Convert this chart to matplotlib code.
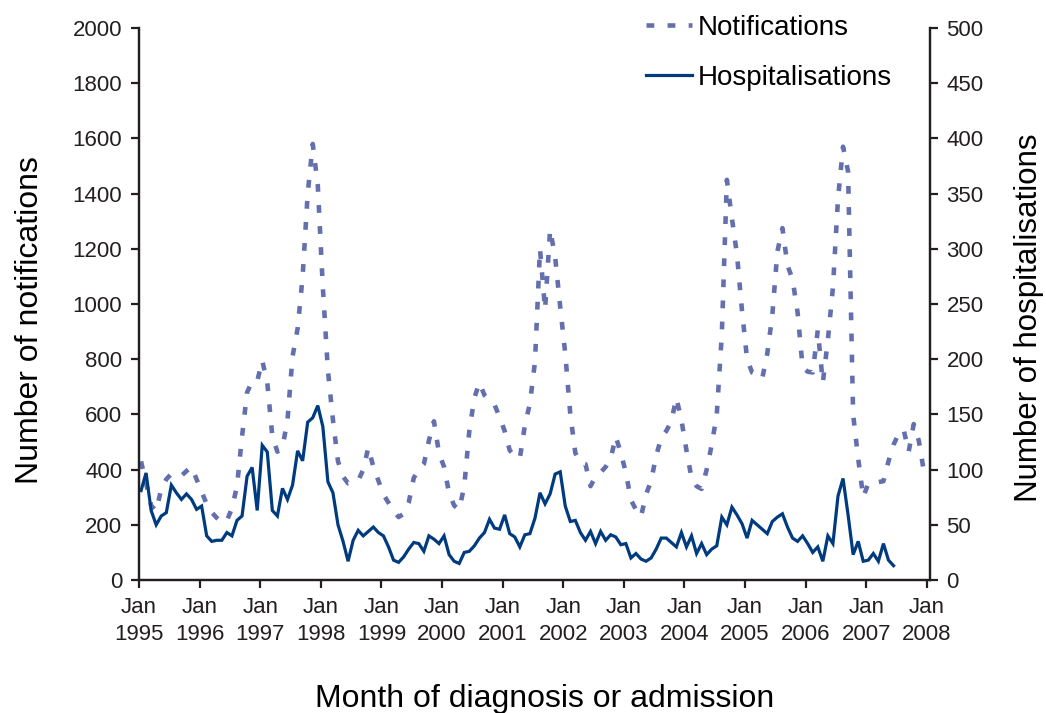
import matplotlib.pyplot as plt
import numpy as np

plt.rcParams['font.family'] = ['Liberation Sans', 'DejaVu Sans']

# monthly counts, Jan 1995 onwards
notifications = [
    430, 350, 270, 250, 330, 365, 385, 380, 378, 395, 410, 365,
    320, 275, 245, 225, 208, 215, 260, 340, 520, 680, 720, 720,
    795, 715, 520, 465, 480, 580, 810, 910, 1100, 1400, 1580, 1430,
    1060, 760, 580, 430, 375, 350, 352, 360, 400, 480, 410, 360,
    310, 280, 250, 228, 240, 280, 370, 400, 420, 505, 575, 460,
    410, 315, 270, 255, 340, 540, 660, 715, 670, 650, 635, 590,
    540, 470, 450, 440, 560, 640, 790, 1200, 980, 1270, 1170, 990,
    820, 600, 460, 425, 420, 340, 375, 390, 410, 440, 520, 460,
    390, 290, 255, 230, 310, 360, 450, 515, 540, 575, 660, 580,
    470, 370, 340, 330, 400, 490, 600, 890, 1450, 1310, 1180, 975,
    800, 752, 745, 730, 820, 960, 1190, 1275, 1140, 1090, 970, 770,
    755, 752, 905, 715, 870, 1060, 1380, 1570, 1480, 600, 440, 300,
    350, 355, 355, 358, 430, 490, 530, 545, 465, 565, 505, 395,
]

hospitalisations = [
    81, 97, 63, 50, 58, 61, 86, 79, 73, 78, 73, 64,
    67, 40, 35, 36, 36, 43, 40, 54, 58, 94, 102, 63,
    122, 116, 63, 58, 83, 73, 86, 117, 108, 143, 147, 158,
    139, 89, 79, 50, 35, 17, 36, 45, 40, 44, 48, 43,
    40, 30, 18, 16, 21, 28, 34, 33, 26, 40, 37, 33,
    40, 23, 17, 15, 25, 26, 31, 38, 43, 55, 47, 46,
    59, 42, 39, 30, 41, 42, 56, 79, 69, 78, 96, 98,
    67, 53, 54, 43, 36, 44, 33, 44, 36, 41, 39, 32,
    33, 20, 24, 19, 17, 20, 28, 38, 38, 34, 30, 43,
    30, 40, 24, 33, 23, 28, 31, 57, 50, 66, 59, 51,
    38, 54, 50, 46, 42, 53, 57, 60, 48, 38, 35, 40,
    33, 25, 30, 17, 40, 33, 76, 92, 59, 23, 35, 17,
    18, 24, 17, 33, 18, 13,
]

years = list(range(1995, 2009))
tick_labels = ["Jan\n%d" % y for y in years]

notif_col = "#6470ae"
hosp_col = "#003b80"
axis_col = "#231f20"

x_n = np.arange(len(notifications)) + 0.4
x_h = np.arange(len(hospitalisations)) + 0.4

fig = plt.figure(figsize=(10.46, 7.13), dpi=100)
ax = fig.add_axes([0.1329, 0.1865, 0.7561, 0.7742])
ax2 = ax.twinx()

l1, = ax.plot(x_n, notifications, color=notif_col, lw=3.3,
              dashes=(1.7, 2.9), dash_capstyle="butt", label="Notifications")
l2, = ax2.plot(x_h, hospitalisations, color=hosp_col, lw=2.3,
               solid_joinstyle="miter", label="Hospitalisations")

ax.set_xlim(0, 156.6)
ax.set_ylim(0, 2000)
ax2.set_ylim(0, 500)
ax.set_xticks([12 * i for i in range(len(years))])
ax.set_xticklabels(tick_labels, linespacing=1.4)
ax.set_yticks(range(0, 2001, 200))
ax2.set_yticks(range(0, 501, 50))

for a in (ax, ax2):
    for s in a.spines.values():
        s.set_color(axis_col)
        s.set_linewidth(1.6)
    a.spines["top"].set_visible(False)
    a.tick_params(direction="out", length=6, width=1.6, color=axis_col,
                  labelsize=16, labelcolor="#231f20")
ax.tick_params(axis="y", pad=6)
ax.tick_params(axis="x", pad=6)
ax2.tick_params(axis="y", pad=6)

ax.set_xlabel("Month of diagnosis or admission", fontsize=23)
ax.xaxis.set_label_coords(0.513, -0.215)
ax.xaxis.label.set_va("center")
ax.set_ylabel("Number of notifications", fontsize=23)
ax.yaxis.set_label_coords(-0.138, 0.471)
ax.yaxis.label.set_va("center")
ax2.set_ylabel("Number of hospitalisations", fontsize=22.5, rotation=90)
ax2.yaxis.set_label_coords(1.1255, 0.475)
ax2.yaxis.label.set_va("center")

ax2.legend(handles=[l1, l2], loc="upper left", bbox_to_anchor=(0.6176, 0.979),
           bbox_transform=fig.transFigure, frameon=False, fontsize=20,
           handlelength=1.66, handletextpad=0.2, labelspacing=0.87,
           borderpad=0, borderaxespad=0)

fig.savefig("out.png", dpi=100)
